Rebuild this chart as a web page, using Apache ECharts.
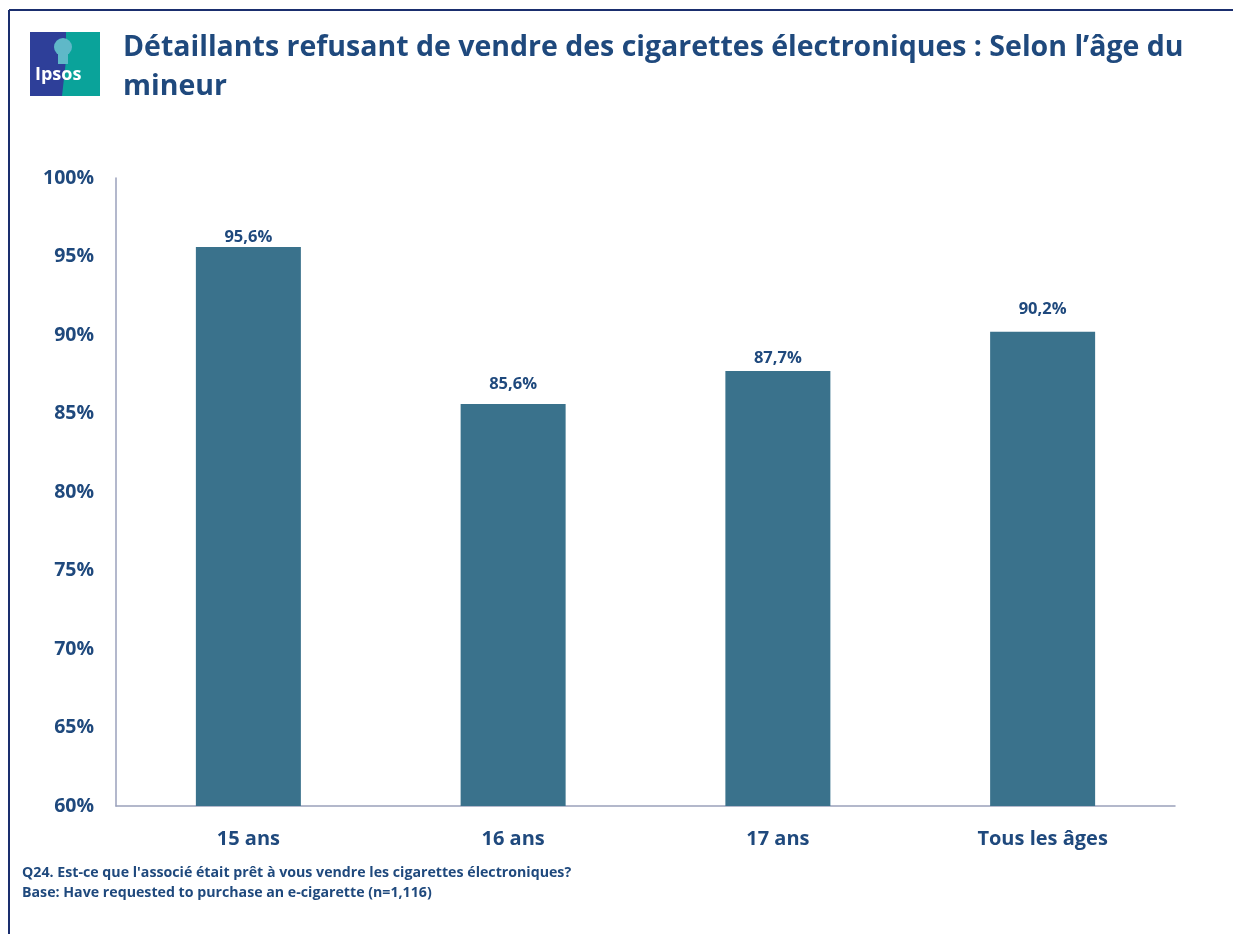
<!DOCTYPE html>
<html>
<head>
<meta charset="utf-8">
<script src="https://cdn.jsdelivr.net/npm/echarts@6/dist/echarts.min.js"></script>
<style>
  html, body { margin: 0; padding: 0; background: #fff; }
  #main { width: 1233px; height: 934px; }
</style>
</head>
<body>
<div id="main"></div>
<script>
// données
var categories = ['15 ans', '16 ans', '17 ans', 'Tous les âges'];
var values = [95.6, 85.6, 87.7, 90.2];
var titleLines = ['Détaillants refusant de vendre des cigarettes électroniques : Selon l\u2019âge du', 'mineur'];
var footLines = ['Q24. Est-ce que l\'associé était prêt à vous vendre les cigarettes électroniques?', 'Base: Have requested to purchase an e-cigarette (n=1,116)'];

// écart étiquette / barre (comme sur l'original)
var labelGaps = [1, 11, 4, 14];

var textColor = '#1f497d';
var font = '"Open Sans", sans-serif';

var myChart = echarts.init(document.getElementById('main'));
myChart.setOption({
    animation: false,
    grid: { left: 116, right: 58, top: 178, bottom: 128 },
    xAxis: {
        type: 'category',
        data: categories,
        axisLine: { lineStyle: { color: '#9aa1bb', width: 1.5 } },
        axisTick: { show: false },
        axisLabel: { color: textColor, fontWeight: 'bold', fontSize: 20, fontFamily: font, margin: 23 }
    },
    yAxis: {
        type: 'value',
        min: 60,
        max: 100,
        interval: 5,
        splitLine: { show: false },
        axisLine: { show: true, lineStyle: { color: '#9aa1bb', width: 1.5 } },
        axisTick: { show: false },
        axisLabel: {
            color: textColor, fontWeight: 'bold', fontSize: 19.5, fontFamily: font, margin: 22,
            formatter: function (v) { return v + '%'; }
        }
    },
    series: [{
        type: 'bar',
        data: values.map(function (v, i) {
            return { value: v, label: { distance: labelGaps[i] } };
        }),
        barWidth: 105,
        itemStyle: { color: '#3a728c' },
        label: {
            show: true,
            position: 'top',
            color: textColor,
            fontWeight: 'bold',
            fontSize: 16.5,
            fontFamily: font,
            formatter: function (p) { return p.value.toFixed(1).replace('.', ',') + '%'; }
        }
    }],
    graphic: [
        // cadre
        { type: 'line', shape: { x1: 9, y1: 10, x2: 1233, y2: 10 }, style: { stroke: '#1a2e6e', lineWidth: 2 } },
        { type: 'line', shape: { x1: 9, y1: 10, x2: 9, y2: 934 }, style: { stroke: '#1a2e6e', lineWidth: 2 } },
        // logo
        { type: 'rect', shape: { x: 30, y: 32, width: 70, height: 64 }, style: { fill: '#2e3f99' } },
        { type: 'polygon', shape: { points: [[66, 32], [100, 32], [100, 96], [62, 96], [66, 60]] }, style: { fill: '#0aa39a' } },
        { type: 'circle', shape: { cx: 63, cy: 47, r: 9 }, style: { fill: '#5fb8c8' } },
        { type: 'rect', shape: { x: 58, y: 54, width: 10, height: 10 }, style: { fill: '#5fb8c8' } },
        { type: 'text', left: 35, top: 66, style: { text: 'Ipsos', fill: '#fff', fontSize: 18, fontWeight: 'bold', fontFamily: font } },
        // titre
        { type: 'text', left: 123, top: 28, style: { text: titleLines.join('\n'), fill: textColor, fontSize: 28.5, fontWeight: 'bold', fontFamily: font, lineHeight: 39 } },
        // note
        { type: 'text', left: 22, top: 863, style: { text: footLines.join('\n'), fill: textColor, fontSize: 14.2, fontWeight: 'bold', fontFamily: font, lineHeight: 20 } }
    ]
});
</script>
</body>
</html>
